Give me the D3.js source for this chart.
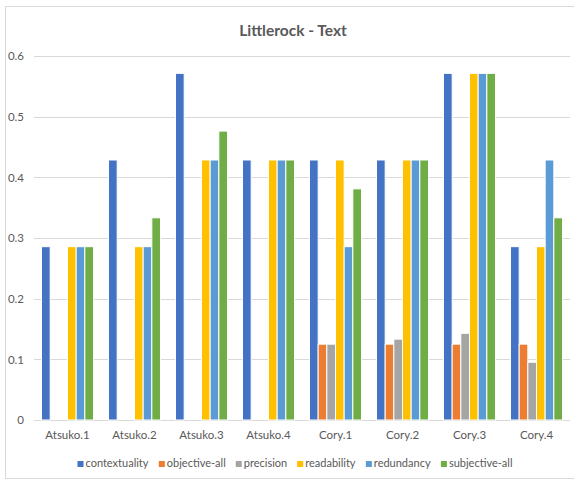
<!DOCTYPE html>
<html>
<head>
<meta charset="utf-8">
<script src="https://cdn.jsdelivr.net/npm/d3@7"></script>
<style>
  html, body { margin: 0; padding: 0; background: #fff; }
  svg text { font-family: Lato, "Liberation Sans", sans-serif; }
</style>
</head>
<body>
<svg id="chart" width="574" height="481"></svg>
<script>
// Categories along the x axis
const categories = ["Atsuko.1", "Atsuko.2", "Atsuko.3", "Atsuko.4", "Cory.1", "Cory.2", "Cory.3", "Cory.4"];
// Series names, in legend order
const seriesNames = ["contextuality", "objective-all", "precision", "readability", "redundancy", "subjective-all"];
const seriesColors = ["#4472C4", "#ED7D31", "#A5A5A5", "#FFC000", "#5B9BD5", "#70AD47"];
// Values per series, one per category
const contextuality = [0.2857, 0.4286, 0.5714, 0.4286, 0.4286, 0.4286, 0.5714, 0.2857];
const objectiveAll  = [0, 0, 0, 0, 0.125, 0.125, 0.125, 0.125];
const precision     = [0, 0, 0, 0, 0.125, 0.1333, 0.1429, 0.0952];
const readability   = [0.2857, 0.2857, 0.4286, 0.4286, 0.4286, 0.4286, 0.5714, 0.2857];
const redundancy    = [0.2857, 0.2857, 0.4286, 0.4286, 0.2857, 0.4286, 0.5714, 0.4286];
const subjectiveAll = [0.2857, 0.3333, 0.4762, 0.4286, 0.381, 0.4286, 0.5714, 0.3333];
const yTicks = [0, 0.1, 0.2, 0.3, 0.4, 0.5, 0.6];

const seriesValues = [contextuality, objectiveAll, precision, readability, redundancy, subjectiveAll];

const svg = d3.select("#chart");
const textColor = "#595959";
const fontStack = 'Lato, "Liberation Sans", sans-serif';

// chart frame
svg.append("rect")
  .attr("x", 5.5).attr("y", 6.5).attr("width", 580).attr("height", 472)
  .attr("fill", "#fff").attr("stroke", "#d9d9d9").attr("stroke-width", 1);

// title
svg.append("text")
  .attr("x", 293).attr("y", 36)
  .attr("text-anchor", "middle")
  .attr("fill", textColor)
  .attr("font-size", 15.5).attr("font-weight", "bold")
  .text("Littlerock - Text");

const plot = { left: 34, right: 570, top: 56, bottom: 420 };

const x0 = d3.scaleBand().domain(categories).range([plot.left, plot.right]).paddingInner(0).paddingOuter(0);
const x1 = d3.scaleBand().domain(seriesNames).range([7.5, x0.bandwidth() - 7.5]).padding(0);
const y = d3.scaleLinear().domain([0, 0.6]).range([plot.bottom, plot.top]);

// gridlines
svg.append("g")
  .selectAll("line")
  .data(yTicks)
  .join("line")
  .attr("x1", plot.left).attr("x2", plot.right)
  .attr("y1", d => Math.round(y(d)) + 0.5).attr("y2", d => Math.round(y(d)) + 0.5)
  .attr("stroke", "#d9d9d9").attr("stroke-width", 1);

// y-axis labels
const yAxis = d3.axisLeft(y).tickValues(yTicks).tickSize(0).tickPadding(0)
  .tickFormat(d => d === 0 ? "0" : d3.format(".1f")(d));
const gy = svg.append("g").attr("transform", `translate(${24},0)`).call(yAxis);
gy.select(".domain").remove();
gy.selectAll("text").attr("fill", textColor).attr("font-size", 11.5)
  .style("font-family", fontStack);

// x-axis labels
const xAxis = d3.axisBottom(x0).tickSize(0).tickPadding(0);
const gx = svg.append("g").attr("transform", `translate(0,${plot.bottom + 11})`).call(xAxis);
gx.select(".domain").remove();
gx.selectAll("text").attr("fill", textColor).attr("font-size", 11.5)
  .style("font-family", fontStack);

// bars
const groups = svg.append("g")
  .selectAll("g")
  .data(categories)
  .join("g")
  .attr("transform", d => `translate(${x0(d)},0)`);

groups.selectAll("rect")
  .data((c, ci) => seriesNames.map((s, si) => ({ s, si, v: seriesValues[si][ci] })))
  .join("rect")
  .filter(d => d.v > 0)
  .attr("x", d => x1(d.s))
  .attr("width", x1.bandwidth())
  .attr("y", d => y(d.v))
  .attr("height", d => y(0) - y(d.v))
  .attr("fill", d => seriesColors[d.si])
  .attr("stroke", "#fff").attr("stroke-width", 1);

// legend
const legend = svg.append("g").attr("transform", "translate(0,467)");
const items = legend.selectAll("g").data(seriesNames).join("g");
items.append("rect")
  .attr("width", 6).attr("height", 6).attr("y", -6)
  .attr("fill", (d, i) => seriesColors[i]);
items.append("text")
  .attr("x", 8).attr("y", 0)
  .attr("fill", textColor).attr("font-size", 11)
  .text(d => d);
let widths = [];
items.each(function() { widths.push(this.getBBox().width); });
const gap = 10;
const total = d3.sum(widths) + gap * (widths.length - 1);
let cx = 295 - total / 2;
items.attr("transform", (d, i) => {
  const t = `translate(${cx},0)`;
  cx += widths[i] + gap;
  return t;
});
</script>
</body>
</html>
